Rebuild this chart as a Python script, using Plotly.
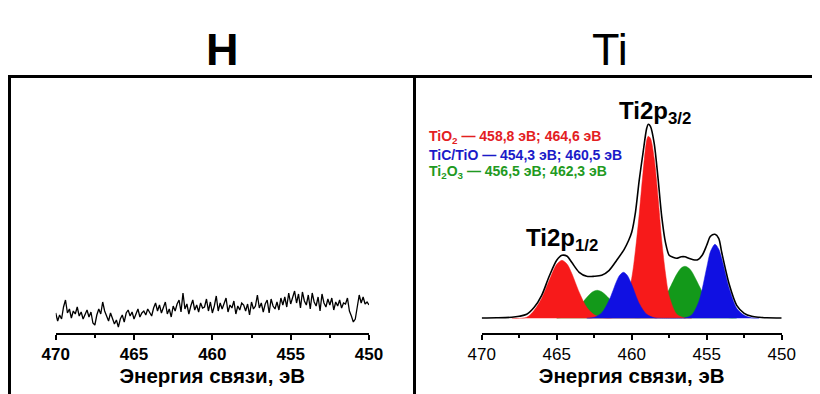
import plotly.graph_objects as go

# ---------------- data ----------------
# H panel: noisy XPS trace (binding energy, intensity)
h_energy_start, h_energy_step, h_count = 470.0, -0.125, 161
h_energy = [h_energy_start + i * h_energy_step for i in range(h_count)]
h_intensity = [
    20, 12, 18, 14, 26, 33, 20, 24, 15, 22, 19, 26, 17, 21, 14, 19, 23,
    16, 21, 10, 8, 18, 24, 19, 31, 22, 17, 12, 20, 15, 9, 13, 6,
    14, 18, 11, 20, 23, 17, 21, 14, 19, 24, 16, 20, 22, 18, 24, 21,
    17, 25, 30, 22, 28, 20, 26, 31, 19, 24, 16, 27, 22, 29, 33, 21,
    40, 24, 29, 19, 27, 33, 23, 28, 21, 30, 25, 26, 34, 22, 31, 20,
    27, 37, 22, 30, 24, 29, 35, 21, 28, 25, 32, 19, 27, 23, 30, 28,
    22, 29, 18, 31, 24, 27, 38, 25, 30, 21, 29, 33, 20, 34, 27, 24,
    31, 23, 35, 28, 36, 26, 40, 29, 37, 42, 30, 39, 25, 41, 32, 28,
    38, 24, 40, 31, 27, 36, 22, 39, 30, 26, 34, 28, 35, 23, 31, 27,
    33, 25, 30, 29, 35, 22, 17, 11, 14, 26, 38, 30, 36, 29, 31, 28,
]

# Ti panel: fitted components
tio2_e = [468, 467, 466.5, 466, 465.5, 465, 464.65, 464.3, 464, 463.5, 463, 462.5, 462, 461.5,
          461, 460.5, 460, 459.75, 459.5, 459.25, 459, 458.9, 458.75, 458.5, 458.25, 458,
          457.75, 457.5, 457, 456.5, 456]
tio2_i = [0, 1, 8, 20, 38, 54, 58, 54, 45, 26, 11, 3.5, 1, 0.3,
          2, 10, 40, 68, 104, 145, 178, 182, 180, 160, 122, 78,
          45, 22, 4, 0.5, 0]

ti2o3_e = [465, 464.5, 464, 463.5, 463, 462.6, 462.3, 462, 461.5, 461, 460.5, 460, 459.5,
           459, 458.5, 458, 457.5, 457, 456.7, 456.45, 456.2, 456, 455.5, 455, 454.5, 454,
           453.5, 453]
ti2o3_i = [0.3, 1.4, 4.7, 11.5, 20.7, 26.5, 28, 26.5, 19.7, 9.7, 3.8, 1.1, 0.6,
           1.9, 5.8, 15, 29, 44, 50.3, 52, 50.3, 46.8, 32.4, 17.7, 7.3, 2.3,
           0.6, 0.1]

tic_e = [463, 462.5, 462, 461.5, 461, 460.8, 460.55, 460.3, 460, 459.5, 459, 458.5, 458,
         457.5, 457, 456.5, 456, 455.5, 455, 454.75, 454.45, 454.2, 454, 453.5, 453, 452.5,
         452, 451.5]
tic_i = [0.1, 1, 5.4, 18.3, 37.4, 43.1, 46, 43.1, 33.8, 14.9, 4, 0.6, 0.05,
         0, 0, 0.3, 3.3, 17.9, 50.6, 66.7, 74, 69.2, 60, 30, 10, 3,
         0.5, 0]

env_e = [470, 469, 468, 467.5, 467, 466.5, 466, 465.5, 465, 464.65, 464.3, 464, 463.5, 463,
         462.5, 462, 461.5, 461, 460.5, 460.2, 460, 459.75, 459.5, 459.25, 459, 458.9,
         458.75, 458.5, 458.25, 458, 457.75, 457.5, 457.25, 457, 456.7, 456.45, 456.2,
         455.9, 455.6, 455.3, 455, 454.75, 454.45, 454.2, 454, 453.5, 453, 452.5, 452,
         451.5, 451, 450]
env_i = [0.3, 0.5, 1, 2, 4, 11, 23, 42, 58, 63, 62, 56, 46, 42,
         42, 43, 48, 58, 69, 78, 86, 106, 138, 165, 190, 194,
         192, 175, 141, 102, 76, 63, 61, 60, 61.5, 61.5, 60,
         58.5, 58.5, 63, 73, 82, 84, 80, 66, 34, 13, 5, 2,
         1, 0.5, 0.3]

x_ticks = [470, 465, 460, 455, 450]
axis_title = "Энергия связи, эВ"
panel_titles = ["H", "Ti"]
legend_lines = [
    ("TiO<sub>2</sub> — 458,8 эВ; 464,6 эВ", "#e3201f"),
    ("TiC/TiO — 454,3 эВ; 460,5 эВ", "#1b1bc8"),
    ("Ti<sub>2</sub>O<sub>3</sub> — 456,5 эВ; 462,3 эВ", "#1f9a22"),
]

RED, GREEN, BLUE = "#f71a1a", "#13991a", "#1010e2"
FONT = "Arial, Liberation Sans, sans-serif"

# page body has an 8px margin, so the figure is 8px smaller and offset
OFF = 8
W, H = 820 - OFF, 394 - OFF
def px(x):
    return (x - OFF) / W
def py(y):
    return 1 - (y - OFF) / H

fig = go.Figure()

# H panel
fig.add_trace(go.Scatter(x=h_energy, y=h_intensity, mode="lines",
                         line=dict(color="black", width=1.3),
                         xaxis="x", yaxis="y", showlegend=False, hoverinfo="skip"))

# Ti panel components (green under red, blue on top)
for e, i, c in [(ti2o3_e, ti2o3_i, GREEN), (tio2_e, tio2_i, RED), (tic_e, tic_i, BLUE)]:
    fig.add_trace(go.Scatter(x=e, y=i, mode="lines", fill="tozeroy", fillcolor=c,
                             line=dict(color=c, width=0.5, shape="spline", smoothing=0.8),
                             xaxis="x2", yaxis="y2", showlegend=False, hoverinfo="skip"))
fig.add_trace(go.Scatter(x=env_e, y=env_i, mode="lines",
                         line=dict(color="black", width=1.6, shape="spline", smoothing=0.8),
                         xaxis="x2", yaxis="y2", showlegend=False, hoverinfo="skip"))

ydom = [py(333), py(100)]
xaxis_common = dict(
    range=[470, 450], tickvals=x_ticks, showline=True, linecolor="black", linewidth=2,
    ticks="outside", ticklen=5, tickwidth=2, tickcolor="black",
    minor=dict(ticks="outside", ticklen=3, tickwidth=1.5, tickcolor="black", dtick=2.5),
    showgrid=False, zeroline=False, automargin=False, fixedrange=True,
    title=dict(text=axis_title, standoff=3,
               font=dict(family=FONT, size=20.5, color="black", weight="bold")),
)

fig.update_layout(
    width=W, height=H, autosize=False, margin=dict(l=0, r=0, t=0, b=0, pad=0, autoexpand=False),
    paper_bgcolor="white", plot_bgcolor="white",
    font=dict(family=FONT, color="black"),
    xaxis=dict(domain=[px(55.7), px(369)], anchor="y",
               tickfont=dict(family=FONT, size=17, color="black", weight="bold"),
               **xaxis_common),
    yaxis=dict(domain=ydom, range=[0, 233], visible=False, fixedrange=True, automargin=False),
    xaxis2=dict(domain=[px(481.7), px(781.7)], anchor="y2",
                tickfont=dict(family=FONT, size=17, color="black"),
                **xaxis_common),
    yaxis2=dict(domain=ydom, range=[-14.7, 218.3], visible=False, fixedrange=True, automargin=False),
)

# frame lines
shapes = [
    dict(type="line", xref="paper", yref="paper", x0=px(8), x1=px(820), y0=py(76.5), y1=py(76.5),
         line=dict(color="black", width=3)),
    dict(type="line", xref="paper", yref="paper", x0=px(9.5), x1=px(9.5), y0=py(75), y1=py(394),
         line=dict(color="black", width=3)),
    dict(type="line", xref="paper", yref="paper", x0=px(414.5), x1=px(414.5), y0=py(75), y1=py(394),
         line=dict(color="black", width=3)),
]
fig.update_layout(shapes=shapes)

annotations = [
    dict(text="<b>" + panel_titles[0] + "</b>", x=px(223), y=py(49), xref="paper", yref="paper",
         showarrow=False, font=dict(family=FONT, size=45, color="black"), xanchor="center", yanchor="middle"),
    dict(text=panel_titles[1], x=px(610), y=py(49), xref="paper", yref="paper",
         showarrow=False, font=dict(family=FONT, size=45, color="black"), xanchor="center", yanchor="middle"),
    dict(text="<b>Ti2p<sub>3/2</sub></b>", x=px(617), y=py(112), xref="paper", yref="paper",
         showarrow=False, font=dict(family=FONT, size=24, color="black"), xanchor="left", yanchor="middle"),
    dict(text="<b>Ti2p<sub>1/2</sub></b>", x=px(524), y=py(239), xref="paper", yref="paper",
         showarrow=False, font=dict(family=FONT, size=24, color="black"), xanchor="left", yanchor="middle"),
]
for k, (txt, col) in enumerate(legend_lines):
    annotations.append(dict(text="<b>" + txt + "</b>", x=px(427), y=py(137 + 17.5 * k),
                            xref="paper", yref="paper", showarrow=False, xanchor="left", yanchor="middle",
                            font=dict(family=FONT, size=14, color=col)))
fig.update_layout(annotations=annotations)

fig.write_html("out.html", config={"displayModeBar": False})
